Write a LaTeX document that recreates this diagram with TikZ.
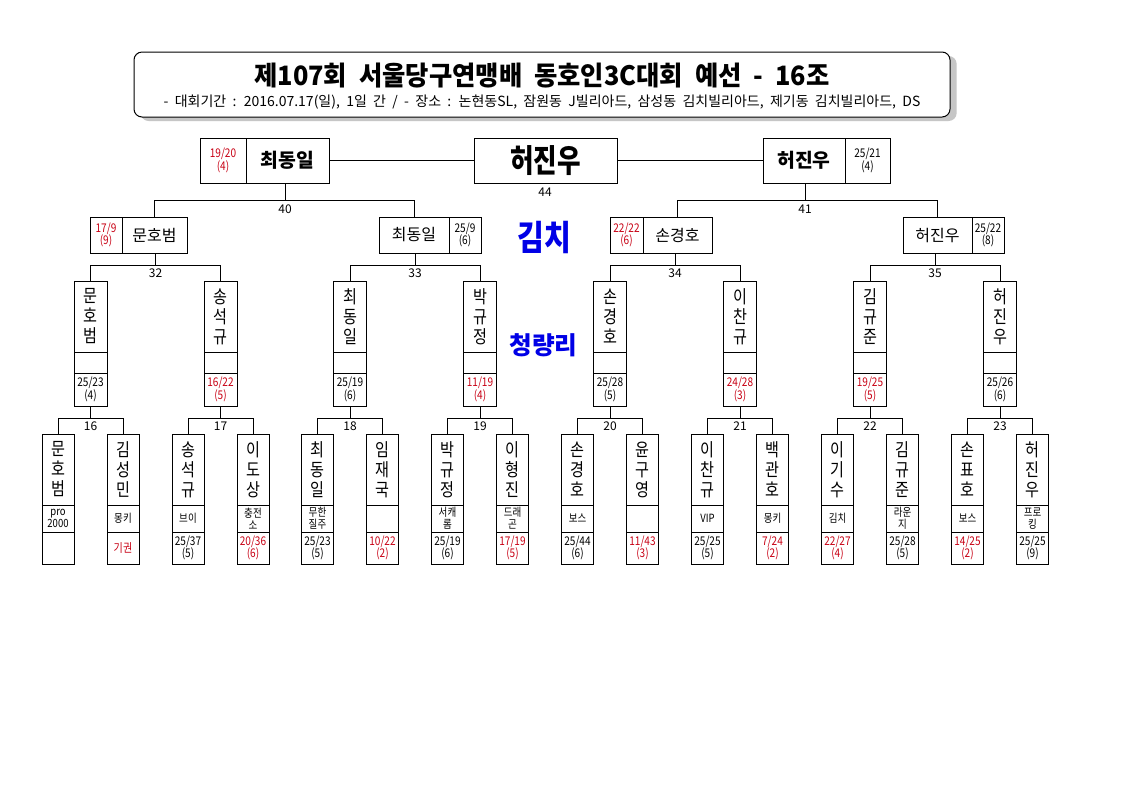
\documentclass[tikz,border=0pt]{standalone}
\usepackage{fontspec}
\setmainfont{Noto Sans CJK KR}
\newfontfamily\nar{Noto Sans CJK KR}[FakeStretch=0.84]
\newfontfamily\champfont{Noto Sans CJK KR}[FakeStretch=0.8]
\newfontfamily\titlefont{Noto Sans CJK KR}[FakeStretch=0.95]
\usetikzlibrary{shadows}
\definecolor{sred}{RGB}{200,0,20}
\definecolor{kblue}{RGB}{0,0,230}
\newcommand\fsz[2]{\fontsize{#1}{#2}\selectfont}
\newcommand\qbox[5]{%
  \node[qname] (#1n) at (#2,316.5) {#3};
  \node[qmid] (#1m) at (#2,362.5) {};
  \node[qscore,text=#5] (#1s) at (#2,389.5) {#4};}
\newcommand\rbox[6]{%
  \node[rname] (#1n) at (#2,469.5) {#3};
  \node[rclub] (#1c) at (#2,518.5) {#4};
  \node[rscore,text=#6] (#1s) at (#2,548) {#5};}
\begin{document}
\begin{tikzpicture}[x=0.75pt,y=-0.75pt,
  lw/.style={line width=0.75pt},
  cell/.style={draw,lw,rectangle,inner sep=0pt,align=center},
  scoref/.style={font=\nar\fsz{9}{9.3}},
  fin/.style={cell,minimum height=33.75pt},
  semi/.style={cell,minimum height=27pt},
  sfont/.style={font=\fsz{12}{14}},
  finname/.style={font=\bfseries\fsz{14.5}{16}},
  vname/.style={font=\nar\fsz{13.5}{15}},
  qname/.style={cell,vname,minimum width=24.75pt,minimum height=53.25pt},
  qmid/.style={cell,minimum width=24.75pt,minimum height=15.75pt},
  qscore/.style={cell,scoref,minimum width=24.75pt,minimum height=24.75pt},
  rname/.style={cell,vname,minimum width=24pt,minimum height=53.25pt},
  rclub/.style={cell,font=\nar\fsz{8.5}{9},minimum width=24pt,minimum height=20.25pt},
  rscore/.style={cell,scoref,minimum width=24pt,minimum height=24pt},
  lbl/.style={inner sep=0pt,font=\fsz{9}{10}},
  link/.style={lw},
  titlebox/.style={draw,lw,fill=white,rounded corners=6pt,minimum width=612pt,minimum height=48.75pt,
    drop shadow={shadow xshift=5pt,shadow yshift=-3pt,fill=gray!45,opacity=1}},
  region/.style={text=kblue,inner sep=0pt}
]
\useasboundingbox (0,0) rectangle (1123,794);
\fill[white] (0,0) rectangle (1123,794);

% title
\node[titlebox] (tbox) at (542,84.5) {};
\node[inner sep=0pt] (title) at (542,76) {\titlefont\bfseries\fsz{20}{22}\spaceskip=0.45em\relax 제107회 서울당구연맹배 동호인3C대회 예선 - 16조};
\node[inner sep=0pt] (subtitle) at (542,102) {\fsz{10.5}{12}\spaceskip=0.45em\relax - 대회기간 : 2016.07.17(일), 1일 간 / - 장소 : 논현동SL, 잠원동 J빌리아드, 삼성동 김치빌리아드, 제기동 김치빌리아드, DS};

% final row
\node[fin,scoref,text=sred,minimum width=34.5pt] (fLs) at (223,160.5) {19/20\\(4)};
\node[fin,finname,minimum width=62.25pt] (fLn) at (287.5,160.5) {최동일};
\node[fin,minimum width=107.25pt,font=\champfont\bfseries\fsz{24}{26}] (champ) at (545.5,160.5) {허진우};
\node[fin,finname,minimum width=61.5pt] (fRn) at (804,160.5) {허진우};
\node[fin,scoref,minimum width=33.75pt] (fRs) at (867.5,160.5) {25/21\\(4)};
\node[lbl] (l44) at (545,192) {44};

% semi row
\node[semi,scoref,text=sred,minimum width=24pt] (sAs) at (106,235) {17/9\\(9)};
\node[semi,sfont,minimum width=48.75pt] (sAn) at (154.5,235) {문호범};
\node[semi,sfont,minimum width=52.5pt] (sBn) at (414,235) {최동일};
\node[semi,scoref,minimum width=24pt] (sBs) at (465,235) {25/9\\(6)};
\node[semi,scoref,text=sred,minimum width=24.75pt] (sCs) at (626.5,235) {22/22\\(6)};
\node[semi,sfont,minimum width=51.75pt] (sCn) at (677.5,235) {손경호};
\node[semi,sfont,minimum width=51.75pt] (sDn) at (937.5,235) {허진우};
\node[semi,scoref,minimum width=24pt] (sDs) at (988,235) {25/22\\(8)};

% quarter row
\qbox{q1}{90.5}{문\\호\\범}{25/23\\(4)}{black}
\qbox{q2}{220.5}{송\\석\\규}{16/22\\(5)}{sred}
\qbox{q3}{350}{최\\동\\일}{25/19\\(6)}{black}
\qbox{q4}{480}{박\\규\\정}{11/19\\(4)}{sred}
\qbox{q5}{610}{손\\경\\호}{25/28\\(5)}{black}
\qbox{q6}{740}{이\\찬\\규}{24/28\\(3)}{sred}
\qbox{q7}{870}{김\\규\\준}{19/25\\(5)}{sred}
\qbox{q8}{1000}{허\\진\\우}{25/26\\(6)}{black}

% first round row
\rbox{r1}{58}{문\\호\\범}{pro\\2000}{}{black}
\rbox{r2}{123}{김\\성\\민}{몽키}{기권}{sred}
\rbox{r3}{188}{송\\석\\규}{브이}{25/37\\(5)}{black}
\rbox{r4}{253}{이\\도\\상}{충전\\소}{20/36\\(6)}{sred}
\rbox{r5}{317.5}{최\\동\\일}{무한\\질주}{25/23\\(5)}{black}
\rbox{r6}{382.5}{임\\재\\국}{}{10/22\\(2)}{sred}
\rbox{r7}{447.5}{박\\규\\정}{서캐\\롬}{25/19\\(6)}{black}
\rbox{r8}{512.5}{이\\형\\진}{드래\\곤}{17/19\\(5)}{sred}
\rbox{r9}{577.5}{손\\경\\호}{보스}{25/44\\(6)}{black}
\rbox{r10}{642.5}{윤\\구\\영}{}{11/43\\(3)}{sred}
\rbox{r11}{707.5}{이\\찬\\규}{VIP}{25/25\\(5)}{black}
\rbox{r12}{772.5}{백\\관\\호}{몽키}{7/24\\(2)}{sred}
\rbox{r13}{837.5}{이\\기\\수}{김치}{22/27\\(4)}{sred}
\rbox{r14}{902.5}{김\\규\\준}{라운\\지}{25/28\\(5)}{black}
\rbox{r15}{967.5}{손\\표\\호}{보스}{14/25\\(2)}{sred}
\rbox{r16}{1032.5}{허\\진\\우}{프로\\킹}{25/25\\(9)}{black}

% region labels
\node[region,font=\nar\bfseries\fsz{26}{28}] (kimchi) at (544,237) {김치};
\node[region,font=\bfseries\fsz{18.5}{20}] (cheong) at (543.5,345) {청량리};

% junctions
\coordinate (j40) at (285,200);
\coordinate (j41) at (805,200);
\coordinate (j32) at (155.5,265);
\coordinate (j33) at (415,265);
\coordinate (j34) at (675,265);
\coordinate (j35) at (935,265);
\foreach \k/\x in {16/90.5,17/220.5,18/350,19/480,20/610,21/740,22/870,23/1000}
  \coordinate (j\k) at (\x,418);

% connectors: final
\draw[link] (fLn.east) -- (champ.west);
\draw[link] (champ.east) -- (fRn.west);
\draw[link] (j40) -- (j40 |- fLn.south);
\draw[link] (j41) -- (j41 |- fRn.south);
\draw[link] (sAn.north) |- (j40) -| (sBn.north);
\draw[link] (sCn.north) |- (j41) -| (sDn.north);
\node[lbl] (l40) at (285,209) {40};
\node[lbl] (l41) at (805,209) {41};

% connectors: semi -> quarter
\foreach \j/\s/\a/\b in {32/sAn/q1/q2,33/sBn/q3/q4,34/sCn/q5/q6,35/sDn/q7/q8}{
  \draw[link] (j\j) -- (j\j |- \s.south);
  \draw[link] (\a n.north) |- (j\j) -| (\b n.north);
}
\node[lbl] (l32) at (155.5,273) {32};
\node[lbl] (l33) at (415,273) {33};
\node[lbl] (l34) at (675,273) {34};
\node[lbl] (l35) at (935,273) {35};

% connectors: quarter -> first round
\foreach \j/\q/\a/\b in {16/q1/r1/r2,17/q2/r3/r4,18/q3/r5/r6,19/q4/r7/r8,20/q5/r9/r10,21/q6/r11/r12,22/q7/r13/r14,23/q8/r15/r16}{
  \draw[link] (j\j) -- (j\j |- \q s.south);
  \draw[link] (\a n.north) |- (j\j) -| (\b n.north);
}
\foreach \k/\x in {16/90.5,17/220.5,18/350,19/480,20/610,21/740,22/870,23/1000}
  \node[lbl] (l\k) at (\x,426) {\k};
\end{tikzpicture}
\end{document}
